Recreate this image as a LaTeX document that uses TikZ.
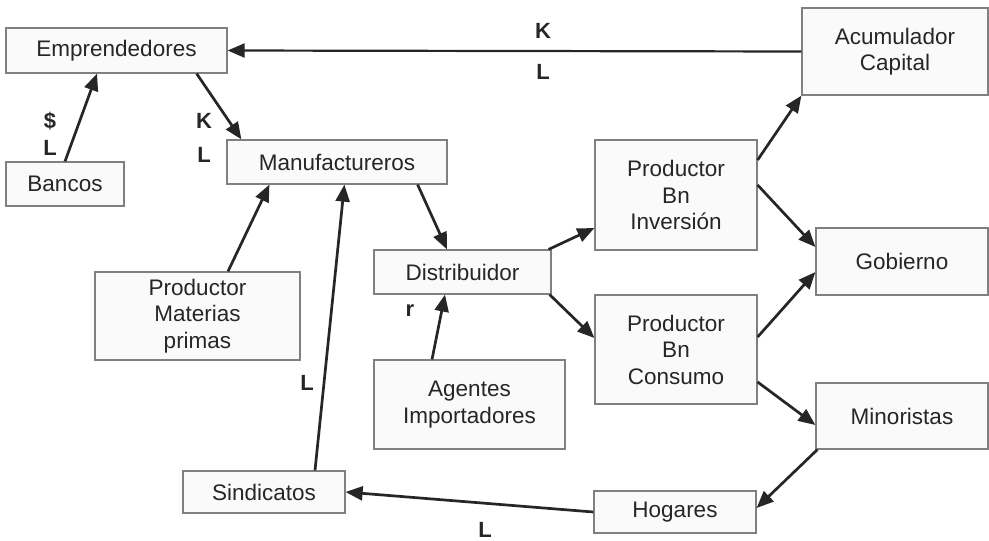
\documentclass[tikz,border=0pt]{standalone}
\usepackage{fontspec}
\setmainfont{Liberation Sans}
\usetikzlibrary{arrows.meta}
\definecolor{boxline}{HTML}{808080}
\definecolor{boxfill}{HTML}{FAFAFA}
\definecolor{arr}{HTML}{262626}
\begin{document}
\begin{tikzpicture}[x=1pt,y=-1pt,
  box/.style={draw=boxline,fill=boxfill,line width=1.2pt,align=center,inner sep=0pt,
    font=\fontsize{22.5}{26.5}\selectfont,text=black!85},
  flow/.style={draw=arr,line width=2.7pt,-{Triangle[length=17pt,width=14pt]}},
  lbl/.style={font=\fontsize{22}{24}\selectfont\bfseries,text=black!85,inner sep=0pt}]
\fill[white] (0,0) rectangle (989,541);
\useasboundingbox (0,0) rectangle (989,541);

\node[box,minimum width=221pt,minimum height=45pt] (emp) at (116.5,50.5) {Emprendedores};
\node[box,minimum width=118pt,minimum height=44pt] (banc) at (65,184) {Bancos};
\node[box,minimum width=220pt,minimum height=44pt] (manu) at (337,162) {Manufactureros};
\node[box,minimum width=186pt,minimum height=87pt] (acum) at (895,51.5) {Acumulador\\Capital};
\node[box,minimum width=205pt,minimum height=88pt] (pmp) at (197.5,316) {Productor\\Materias\\primas};
\node[box,minimum width=177pt,minimum height=44pt] (dist) at (462.5,272) {Distribuidor};
\node[box,minimum width=162pt,minimum height=110pt] (inv) at (676,195) {Productor\\Bn\\Inversión};
\node[box,minimum width=162pt,minimum height=109pt] (cons) at (676,349.5) {Productor\\Bn\\Consumo};
\node[box,minimum width=191pt,minimum height=89pt] (agen) at (469.5,404.5) {Agentes\\Importadores};
\node[box,minimum width=172pt,minimum height=67pt] (gob) at (902,261.5) {Gobierno};
\node[box,minimum width=172pt,minimum height=66pt] (mino) at (902,416) {Minoristas};
\node[box,minimum width=162pt,minimum height=42pt] (hog) at (675,512) {Hogares};
\node[box,minimum width=162pt,minimum height=42pt] (sind) at (264,492) {Sindicatos};

\draw[flow,line width=2.2pt] (acum.west) -- (emp.east);
\draw[flow] (banc.north) -- ([xshift=-19.5pt]emp.south);
\draw[flow] ([xshift=-31pt]emp.south east) -- ([xshift=15pt]manu.north west);
\draw[flow] ([xshift=30.5pt]pmp.north) -- ([xshift=43pt]manu.south west);
\draw[flow] ([xshift=51pt]sind.north) -- ([xshift=118pt]manu.south west);
\draw[flow] ([xshift=-30pt]manu.south east) -- ([xshift=-15.5pt]dist.north);
\draw[flow] ([xshift=-37.5pt]agen.north) -- ([xshift=-17.5pt]dist.south);
\draw[flow] ([xshift=-3pt]dist.north east) -- ([yshift=-33pt]inv.west);
\draw[flow] ([xshift=-2pt]dist.south east) -- ([yshift=11.5pt]cons.west);
\draw[flow] ([yshift=35pt]inv.east) -- (acum.south west);
\draw[flow] ([yshift=10pt]inv.east) -- ([yshift=14.5pt]gob.west);
\draw[flow] ([yshift=12.5pt]cons.east) -- ([yshift=-10.5pt]gob.west);
\draw[flow] ([yshift=-32.5pt]cons.east) -- ([yshift=-9pt]mino.west);
\draw[flow] ([xshift=2pt]mino.south west) -- ([yshift=4pt]hog.east);
\draw[flow] (hog.west) -- (sind.east);

\node[lbl] (k1) at (543,31) {K};
\node[lbl] (l1) at (543,72) {L};
\node[lbl] (d2) at (50,121) {\$};
\node[lbl] (l2) at (50,148) {L};
\node[lbl] (k3) at (204,121) {K};
\node[lbl] (l3) at (204,155) {L};
\node[lbl] (r4) at (410,311) {r};
\node[lbl] (l5) at (307,383) {L};
\node[lbl] (l6) at (485,530) {L};
\end{tikzpicture}
\end{document}
